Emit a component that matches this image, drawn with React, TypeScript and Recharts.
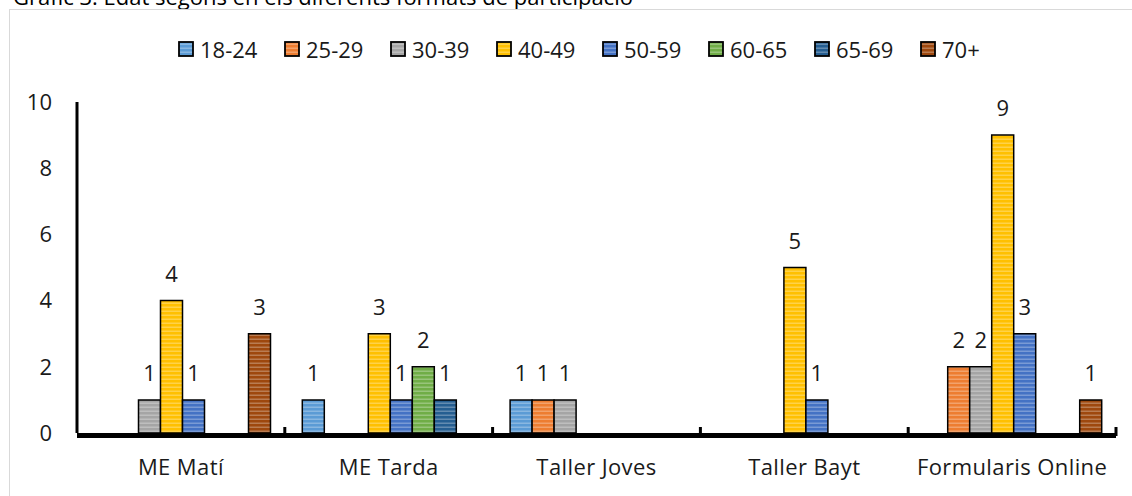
import { Bar, BarChart, LabelList, XAxis, YAxis } from "recharts"

const categories = ["ME Matí", "ME Tarda", "Taller Joves", "Taller Bayt", "Formularis Online"]
const ageGroups = ["18-24", "25-29", "30-39", "40-49", "50-59", "60-65", "65-69", "70+"]

const age18to24 = [0, 1, 1, 0, 0]
const age25to29 = [0, 0, 1, 0, 2]
const age30to39 = [1, 0, 1, 0, 2]
const age40to49 = [4, 3, 0, 5, 9]
const age50to59 = [1, 1, 0, 1, 3]
const age60to65 = [0, 2, 0, 0, 0]
const age65to69 = [0, 1, 0, 0, 0]
const age70plus = [3, 0, 0, 0, 1]

const seriesValues = [age18to24, age25to29, age30to39, age40to49, age50to59, age60to65, age65to69, age70plus]
const seriesColors = ["#5B9BD5", "#ED7D31", "#A5A5A5", "#FFC000", "#4472C4", "#70AD47", "#255E91", "#9E480E"]
const yTicks = [0, 2, 4, 6, 8, 10]

const title = "Gràfic 3. Edat segons en els diferents formats de participació"

const rows = categories.map((name, i) => {
  const row: Record<string, string | number | null> = { name }
  ageGroups.forEach((group, s) => {
    row[group] = seriesValues[s][i] || null
  })
  return row
})

const FONT = "'Open Sans', sans-serif"
const TEXT = "#1a1a1a"
const WIDTH = 1132
const HEIGHT = 496
const MARGIN = { top: 102, right: 16, bottom: 0, left: 0 }
const Y_AXIS_W = 77
const TICK_MARGIN = 27
const BAND = (WIDTH - MARGIN.right - Y_AXIS_W) / categories.length

function CategoryTick(props: any) {
  const { x, y, payload, index, visibleTicksCount } = props
  const axisY = y - TICK_MARGIN
  const half = typeof payload?.offset === "number" && payload.offset > 10 ? payload.offset : BAND / 2
  return (
    <g>
      {index > 0 && <line x1={x - half} x2={x - half} y1={axisY - 6} y2={axisY + 3} stroke="#000" strokeWidth={3} />}
      {index === visibleTicksCount - 1 && (
        <line x1={x + half} x2={x + half} y1={axisY - 6} y2={axisY + 3} stroke="#000" strokeWidth={3} />
      )}
      <text x={x} y={y} dy={15} textAnchor="middle" fontSize={22} fill={TEXT} fontFamily={FONT} letterSpacing={0.4}>
        {payload.value}
      </text>
    </g>
  )
}

function StripeDefs() {
  return (
    <svg width={0} height={0} style={{ position: "absolute" }}>
      <defs>
        {seriesColors.map((color, i) => (
          <pattern key={i} id={`stripe${i}`} width={4} height={4} patternUnits="userSpaceOnUse">
            <rect width={4} height={4} fill={color} />
            <rect y={2.6} width={4} height={1.2} fill="#fff" opacity={0.35} />
          </pattern>
        ))}
      </defs>
    </svg>
  )
}

export default function App() {
  return (
    <div style={{ position: "absolute", left: 0, top: 0, width: WIDTH, height: HEIGHT, background: "#fff", overflow: "hidden", fontFamily: FONT }}>
      <StripeDefs />
      <div style={{ position: "absolute", left: 13, top: -15, fontSize: 22, lineHeight: "22px", color: "#000", whiteSpace: "nowrap" }}>
        {title}
      </div>
      <div style={{ position: "absolute", left: 9, top: 9, width: WIDTH, height: HEIGHT, border: "1.5px solid #d9d9d9" }} />
      <div style={{ position: "absolute", left: 178, top: 34, display: "flex", alignItems: "center" }}>
        {ageGroups.map((group, i) => (
          <div key={group} style={{ width: 106, display: "flex", alignItems: "center", fontSize: 22, color: TEXT, whiteSpace: "nowrap" }}>
            <svg width={17} height={17} style={{ marginRight: 5 }}>
              <rect x={1} y={1} width={14} height={14} fill={`url(#stripe${i})`} stroke="#000" strokeWidth={1.8} />
            </svg>
            {group}
          </div>
        ))}
      </div>
      <div style={{ position: "absolute", left: 0, top: 0 }}>
        <BarChart width={WIDTH} height={HEIGHT} data={rows} margin={MARGIN} barCategoryGap={17.5} barGap={0}>
          <XAxis
            dataKey="name"
            height={63}
            interval={0}
            tickLine={false}
            tickSize={0}
            tickMargin={TICK_MARGIN}
            axisLine={{ stroke: "#000", strokeWidth: 5, transform: "translate(0 2.5)" }}
            tick={<CategoryTick />}
          />
          <YAxis
            domain={[0, 10]}
            ticks={yTicks}
            width={Y_AXIS_W}
            interval={0}
            tickLine={false}
            tickMargin={19}
            axisLine={{ stroke: "#000", strokeWidth: 3 }}
            tick={{ fontSize: 22, fill: TEXT, fontFamily: FONT }}
          />
          {ageGroups.map((group, i) => (
            <Bar key={group} dataKey={group} fill={`url(#stripe${i})`} stroke="#000" strokeWidth={1.5} isAnimationActive={false}>
              <LabelList dataKey={group} position="top" offset={19} fontSize={22} fill={TEXT} fontFamily={FONT} />
            </Bar>
          ))}
        </BarChart>
      </div>
    </div>
  )
}
